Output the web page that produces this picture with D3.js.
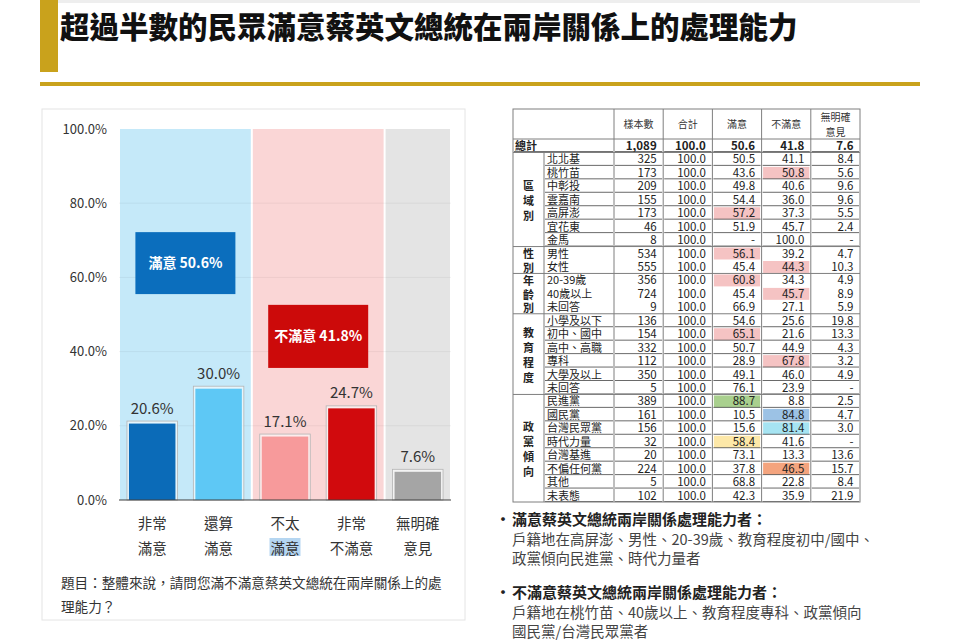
<!DOCTYPE html>
<html>
<head>
<meta charset="utf-8">
<script src="https://cdn.jsdelivr.net/npm/d3@7"></script>
<style>
  body { margin: 0; background: #fff; }
  svg { display: block; font-family: "Noto Sans CJK TC", "Noto Sans", sans-serif; }
</style>
</head>
<body>
<script>
/* ---------- data ---------- */
const title = "超過半數的民眾滿意蔡英文總統在兩岸關係上的處理能力";

// bar chart
const categories = ["非常滿意", "還算滿意", "不太滿意", "非常不滿意", "無明確意見"];
const categoryLines = [["非常", "滿意"], ["還算", "滿意"], ["不太", "滿意"], ["非常", "不滿意"], ["無明確", "意見"]];
const shares = [20.6, 30.0, 17.1, 24.7, 7.6];
const yTicks = [0, 20, 40, 60, 80, 100];
const bandGroups = [[0, 1], [2, 3], [4]];
const summaryLabels = ["滿意", "不滿意"];
const summaryValues = [50.6, 41.8];
const question = ["題目：整體來說，請問您滿不滿意蔡英文總統在兩岸關係上的處", "理能力？"];

// table
const tableHeaders = ["樣本數", "合計", "滿意", "不滿意", "無明確意見"];
const totalRow = ["總計", "1,089", "100.0", "50.6", "41.8", "7.6"];
const tableGroups = ["區域別", "性別", "年齡別", "教育程度", "政黨傾向"];
const regionRows = [
  ["北北基", "325", "100.0", "50.5", "41.1", "8.4"],
  ["桃竹苗", "173", "100.0", "43.6", "50.8", "5.6"],
  ["中彰投", "209", "100.0", "49.8", "40.6", "9.6"],
  ["雲嘉南", "155", "100.0", "54.4", "36.0", "9.6"],
  ["高屏澎", "173", "100.0", "57.2", "37.3", "5.5"],
  ["宜花東", "46", "100.0", "51.9", "45.7", "2.4"],
  ["金馬", "8", "100.0", "-", "100.0", "-"]
];
const genderRows = [
  ["男性", "534", "100.0", "56.1", "39.2", "4.7"],
  ["女性", "555", "100.0", "45.4", "44.3", "10.3"]
];
const ageRows = [
  ["20-39歲", "356", "100.0", "60.8", "34.3", "4.9"],
  ["40歲以上", "724", "100.0", "45.4", "45.7", "8.9"],
  ["未回答", "9", "100.0", "66.9", "27.1", "5.9"]
];
const eduRows = [
  ["小學及以下", "136", "100.0", "54.6", "25.6", "19.8"],
  ["初中、國中", "154", "100.0", "65.1", "21.6", "13.3"],
  ["高中、高職", "332", "100.0", "50.7", "44.9", "4.3"],
  ["專科", "112", "100.0", "28.9", "67.8", "3.2"],
  ["大學及以上", "350", "100.0", "49.1", "46.0", "4.9"],
  ["未回答", "5", "100.0", "76.1", "23.9", "-"]
];
const partyRows = [
  ["民進黨", "389", "100.0", "88.7", "8.8", "2.5"],
  ["國民黨", "161", "100.0", "10.5", "84.8", "4.7"],
  ["台灣民眾黨", "156", "100.0", "15.6", "81.4", "3.0"],
  ["時代力量", "32", "100.0", "58.4", "41.6", "-"],
  ["台灣基進", "20", "100.0", "73.1", "13.3", "13.6"],
  ["不偏任何黨", "224", "100.0", "37.8", "46.5", "15.7"],
  ["其他", "5", "100.0", "68.8", "22.8", "8.4"],
  ["未表態", "102", "100.0", "42.3", "35.9", "21.9"]
];
// [group, row, column, tone]
const highlightCells = [
  ["區域別", "桃竹苗", "不滿意", "high"],
  ["區域別", "高屏澎", "滿意", "high"],
  ["性別", "男性", "滿意", "high"],
  ["性別", "女性", "不滿意", "high"],
  ["年齡別", "20-39歲", "滿意", "high"],
  ["年齡別", "40歲以上", "不滿意", "high"],
  ["教育程度", "初中、國中", "滿意", "high"],
  ["教育程度", "專科", "不滿意", "high"],
  ["政黨傾向", "民進黨", "滿意", "dpp"],
  ["政黨傾向", "國民黨", "不滿意", "kmt"],
  ["政黨傾向", "台灣民眾黨", "不滿意", "tpp"],
  ["政黨傾向", "時代力量", "滿意", "npp"],
  ["政黨傾向", "不偏任何黨", "不滿意", "none"]
];

// notes
const notes = [
  { head: "滿意蔡英文總統兩岸關係處理能力者：",
    body: ["戶籍地在高屏澎、男性、20-39歲、教育程度初中/國中、", "政黨傾向民進黨、時代力量者"] },
  { head: "不滿意蔡英文總統兩岸關係處理能力者：",
    body: ["戶籍地在桃竹苗、40歲以上、教育程度專科、政黨傾向", "國民黨/台灣民眾黨者"] }
];

/* ---------- style ---------- */
const gold = "#c9a21c";
const barColors = ["#0b6bb8", "#5ec8f5", "#f79a9b", "#d10a0d", "#a5a5a5"];
const bandColors = ["#c5e9f9", "#fad6d6", "#e4e4e4"];
const summaryColors = ["#0b6ebd", "#cc0a0a"];
const summaryBox = [[72.2, 55.5], [52.6, 35.6]];   // top / bottom in %
const toneColors = { high: "#f5c3c3", dpp: "#a9d08e", kmt: "#9cc2e5", tpp: "#a6e4f2", npp: "#fde8a8", none: "#f4a47e" };
const underlinedGroups = ["區域別", "教育程度", "政黨傾向"];
const lineColor = "#7f7f7f";

const svg = d3.select("body").append("svg")
  .attr("width", 960)
  .attr("height", 640);

/* ---------- header ---------- */
svg.append("rect").attr("x", 58).attr("y", 0).attr("width", 862).attr("height", 3).attr("fill", "#eeeeee");
svg.append("rect").attr("x", 40).attr("y", 0).attr("width", 18).attr("height", 72).attr("fill", gold);
svg.append("text")
  .attr("x", 60).attr("y", 38)
  .attr("font-size", 29.5).attr("font-weight", 900).attr("fill", "#111")
  .text(title);
svg.append("rect").attr("x", 40).attr("y", 82).attr("width", 880).attr("height", 4).attr("fill", gold);

/* ---------- bar chart ---------- */
svg.append("rect")
  .attr("x", 42).attr("y", 109).attr("width", 423).attr("height", 511)
  .attr("fill", "#fff").attr("stroke", "#e4e4e4");

const y = d3.scaleLinear().domain([0, 100]).range([500, 129]);
const xs = d3.scaleBand().domain(categories).range([119, 451]);
const x = d3.scaleBand().domain(categories).range([119, 451]).paddingInner(0.3).paddingOuter(0.15);

const groupSpan = g => {
  const a = xs(categories[g[0]]);
  const b = xs(categories[g[g.length - 1]]) + xs.bandwidth();
  return [a, b];
};

svg.append("g").selectAll("rect")
  .data(bandGroups)
  .join("rect")
  .attr("x", g => groupSpan(g)[0] + 1)
  .attr("width", g => groupSpan(g)[1] - groupSpan(g)[0] - 2)
  .attr("y", y(100))
  .attr("height", y(0) - y(100))
  .attr("fill", (g, i) => bandColors[i]);

// gridlines
svg.append("g").selectAll("line")
  .data(yTicks.filter(t => t > 0 && t < 100))
  .join("line")
  .attr("x1", 119).attr("x2", 451)
  .attr("y1", d => y(d)).attr("y2", d => y(d))
  .attr("stroke", "#000").attr("stroke-opacity", 0.05);

// y axis
const yAxis = svg.append("g")
  .attr("transform", "translate(119,0)")
  .call(d3.axisLeft(y).tickValues(yTicks).tickFormat(d => d.toFixed(1) + "%").tickSize(0).tickPadding(12));
yAxis.select(".domain").remove();
yAxis.selectAll("text")
  .attr("font-size", 13)
  .attr("fill", "#333")
  .attr("font-family", "'Noto Sans CJK TC', sans-serif");

// summary boxes
const sumG = svg.append("g");
summaryLabels.forEach((lab, i) => {
  const [a, b] = groupSpan(bandGroups[i]);
  const cx = (a + b) / 2;
  const t = y(summaryBox[i][0]), btm = y(summaryBox[i][1]);
  sumG.append("rect")
    .attr("x", cx - 50).attr("width", 100)
    .attr("y", t).attr("height", btm - t)
    .attr("fill", summaryColors[i]);
  sumG.append("text")
    .attr("x", cx).attr("y", (t + btm) / 2 + 5)
    .attr("text-anchor", "middle")
    .attr("font-size", 14).attr("font-weight", 700).attr("fill", "#fff")
    .text(lab + " " + summaryValues[i].toFixed(1) + "%");
});

// bars
const barG = svg.append("g");
barG.selectAll("rect.frame")
  .data(shares)
  .join("rect")
  .attr("class", "frame")
  .attr("x", (d, i) => x(categories[i]) - 2)
  .attr("width", x.bandwidth() + 4)
  .attr("y", d => y(d) - 2.5)
  .attr("height", d => y(0) - y(d) + 2.5)
  .attr("fill", "rgba(255,255,255,0.55)")
  .attr("stroke", "#b4b4b4")
  .attr("stroke-width", 0.8);
barG.selectAll("rect.bar")
  .data(shares)
  .join("rect")
  .attr("class", "bar")
  .attr("x", (d, i) => x(categories[i]))
  .attr("width", x.bandwidth())
  .attr("y", d => y(d))
  .attr("height", d => y(0) - y(d))
  .attr("fill", (d, i) => barColors[i]);
barG.selectAll("text")
  .data(shares)
  .join("text")
  .attr("x", (d, i) => x(categories[i]) + x.bandwidth() / 2)
  .attr("y", d => y(d) - 10)
  .attr("text-anchor", "middle")
  .attr("font-size", 15).attr("fill", "#333")
  .text(d => d.toFixed(1) + "%");

svg.append("line")
  .attr("x1", 119).attr("x2", 451)
  .attr("y1", y(0)).attr("y2", y(0))
  .attr("stroke", "#404040").attr("stroke-width", 1.2);

// category labels
const catG = svg.append("g");
categoryLines.forEach((lines, i) => {
  const cx = x(categories[i]) + x.bandwidth() / 2;
  lines.forEach((ln, k) => {
    const t = catG.append("text")
      .attr("x", cx).attr("y", 529 + k * 25)
      .attr("text-anchor", "middle")
      .attr("font-size", 14.5).attr("fill", "#333")
      .text(ln);
    if (i === 2 && k === 1) {
      const bb = t.node().getBBox();
      catG.insert("rect", "text")
        .attr("x", bb.x - 1).attr("y", bb.y + 1)
        .attr("width", bb.width + 2).attr("height", bb.height - 3)
        .attr("fill", "#b5d6f1");
    }
  });
});

svg.append("g").selectAll("text")
  .data(question)
  .join("text")
  .attr("x", 61).attr("y", (d, i) => 588 + i * 24)
  .attr("font-size", 13.6).attr("fill", "#333")
  .text(d => d);

/* ---------- table ---------- */
const groupData = [regionRows, genderRows, ageRows, eduRows, partyRows];
const rows = [{ group: null, cells: totalRow }];
const groupIndex = [];
groupData.forEach((g, gi) => {
  groupIndex.push([rows.length, rows.length + g.length - 1]);
  g.forEach(r => rows.push({ group: tableGroups[gi], cells: r }));
});

const col = d3.scaleBand().domain(tableHeaders).range([614, 860]);
const row = d3.scaleBand().domain(d3.range(rows.length)).range([139, 502]);
const rh = row.bandwidth();
const tbl = svg.append("g");

// highlighted cells
highlightCells.forEach(([g, lab, c, tone]) => {
  const i = rows.findIndex(r => r.group === g && r.cells[0] === lab);
  tbl.append("rect")
    .attr("x", col(c) + 1.5).attr("width", col.bandwidth() - 3)
    .attr("y", row(i) + 1).attr("height", rh - 1.5)
    .attr("fill", toneColors[tone]);
});

// header
tableHeaders.forEach(h => {
  const cx = col(h) + col.bandwidth() / 2;
  const parts = h === "無明確意見" ? ["無明確", "意見"] : [h];
  parts.forEach((p, k) => {
    tbl.append("text")
      .attr("x", cx).attr("y", parts.length > 1 ? 121 + k * 15 : 128)
      .attr("text-anchor", "middle")
      .attr("font-size", 10).attr("fill", "#333")
      .text(p);
  });
});

// body text
rows.forEach((r, i) => {
  const base = row(i) + rh - 2.5;
  const isTotal = r.group === null;
  tbl.append("text")
    .attr("x", isTotal ? 515 : 547).attr("y", base)
    .attr("font-size", 11).attr("fill", "#222")
    .attr("font-weight", isTotal ? 700 : 400)
    .text(r.cells[0]);
  r.cells.slice(1).forEach((v, k) => {
    tbl.append("text")
      .attr("x", col(tableHeaders[k]) + col.bandwidth() - 6.5).attr("y", base)
      .attr("text-anchor", "end")
      .attr("font-size", 11.5).attr("fill", "#222")
      .attr("font-weight", isTotal ? 700 : 400)
      .text(v);
  });
  // underlines
  if (isTotal || underlinedGroups.includes(r.group)) {
    const ly = row(i) + rh - 0.5;
    const spans = [[isTotal ? 514 : 545, 613]].concat(tableHeaders.map(h => [col(h) + 1, col(h) + col.bandwidth() - 1]));
    spans.forEach(([a, b]) => {
      tbl.append("line")
        .attr("x1", a).attr("x2", b).attr("y1", ly).attr("y2", ly)
        .attr("stroke", "#444").attr("stroke-width", isTotal ? 1.4 : 0.8);
    });
  }
});

// group labels (stacked characters)
tableGroups.forEach((g, gi) => {
  const [a, b] = groupIndex[gi];
  const cy = (row(a) + row(b) + rh) / 2 + 1;
  const chars = Array.from(g);
  const gap = Math.min(15, (b - a + 1) * rh / chars.length);
  chars.forEach((ch, k) => {
    tbl.append("text")
      .attr("x", 528.5).attr("y", cy + (k - (chars.length - 1) / 2) * gap + 4)
      .attr("text-anchor", "middle")
      .attr("font-size", 11).attr("font-weight", 700).attr("fill", "#222")
      .text(ch);
  });
});

// grid lines
const tTop = 109, tBottom = row(rows.length - 1) + rh;
tbl.append("rect")
  .attr("x", 513).attr("y", tTop).attr("width", 860 - 513).attr("height", tBottom - tTop)
  .attr("fill", "none").attr("stroke", lineColor);
tableHeaders.forEach(h => {
  tbl.append("line")
    .attr("x1", col(h)).attr("x2", col(h)).attr("y1", tTop).attr("y2", tBottom)
    .attr("stroke", lineColor);
});
tbl.append("line")
  .attr("x1", 544).attr("x2", 544).attr("y1", row(1)).attr("y2", tBottom)
  .attr("stroke", lineColor);
[row(0), row(1)].concat(groupIndex.slice(1).map(g => row(g[0]))).forEach(ly => {
  tbl.append("line")
    .attr("x1", 513).attr("x2", 860).attr("y1", ly).attr("y2", ly)
    .attr("stroke", lineColor);
});

/* ---------- notes ---------- */
const noteG = svg.append("g");
notes.forEach((n, i) => {
  const y0 = 525 + i * 73;
  noteG.append("text").attr("x", 494).attr("y", y0 + 1).attr("font-size", 18).attr("fill", "#222").text("•");
  noteG.append("text").attr("x", 512).attr("y", y0)
    .attr("font-size", 15).attr("font-weight", 700).attr("fill", "#222").text(n.head);
  n.body.forEach((ln, k) => {
    noteG.append("text").attr("x", 512).attr("y", y0 + 19.5 * (k + 1))
      .attr("font-size", 14.5).attr("fill", "#444").text(ln);
  });
});
</script>
</body>
</html>
